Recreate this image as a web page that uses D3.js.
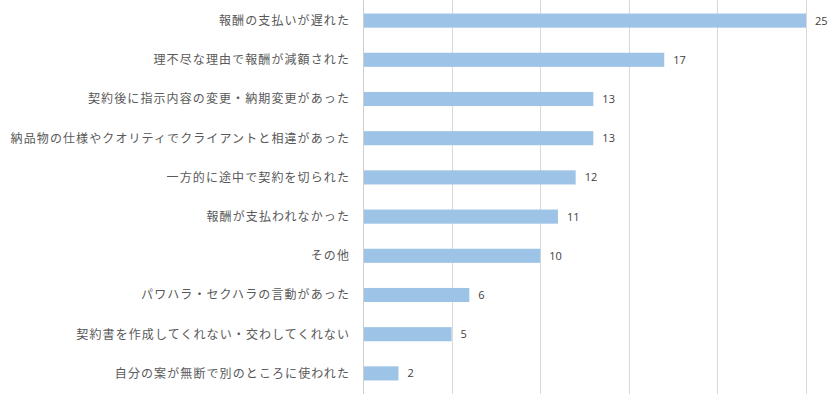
<!DOCTYPE html>
<html><head><meta charset="utf-8">
<script src="https://cdn.jsdelivr.net/npm/d3@7"></script>
<style>
html,body{margin:0;padding:0;background:#fff;}
svg{display:block;}
</style></head>
<body>
<svg id="chart" width="840" height="394"></svg>
<script>
const categories = [
  "報酬の支払いが遅れた",
  "理不尽な理由で報酬が減額された",
  "契約後に指示内容の変更・納期変更があった",
  "納品物の仕様やクオリティでクライアントと相違があった",
  "一方的に途中で契約を切られた",
  "報酬が支払われなかった",
  "その他",
  "パワハラ・セクハラの言動があった",
  "契約書を作成してくれない・交わしてくれない",
  "自分の案が無断で別のところに使われた"
];
const values = [25, 17, 13, 13, 12, 11, 10, 6, 5, 2];
const ticks = [0, 5, 10, 15, 20, 25];

const svg = d3.select("#chart");
const x = d3.scaleLinear().domain([0, 25]).range([363, 806]);
const y = d3.scaleBand().domain(categories).range([1, 393]).paddingInner(0.64).paddingOuter(0.32);

// gridlines
svg.append("g").selectAll("line").data(ticks).join("line")
  .attr("x1", d => Math.round(x(d)) + 0.5).attr("x2", d => Math.round(x(d)) + 0.5)
  .attr("y1", 0).attr("y2", 394)
  .attr("stroke", d => d === 0 ? "#cfcfcf" : "#d9d9d9").attr("stroke-width", 1);

// bars
svg.append("g").selectAll("rect").data(values).join("rect")
  .attr("x", x(0) + 1)
  .attr("y", (d, i) => y(categories[i]))
  .attr("width", d => x(d) - x(0) - 1)
  .attr("height", y.bandwidth())
  .attr("fill", "#9dc3e6");

// value labels
svg.append("g").selectAll("text").data(values).join("text")
  .attr("x", d => x(d) + 9)
  .attr("y", (d, i) => y(categories[i]) + y.bandwidth() / 2)
  .attr("dy", "0.36em")
  .attr("font-family", "'Open Sans', 'Noto Sans', sans-serif")
  .attr("font-size", 11)
  .attr("fill", "#404040")
  .text(d => d);

// category labels
svg.append("g").selectAll("text").data(categories).join("text")
  .attr("x", 350)
  .attr("y", d => y(d) + y.bandwidth() / 2)
  .attr("dy", "0.36em")
  .attr("text-anchor", "end")
  .attr("font-family", "'Noto Sans CJK JP', sans-serif")
  .attr("font-size", 12)
  .attr("letter-spacing", "1.1px")
  .attr("fill", "#595959")
  .text(d => d);
</script>
</body></html>
